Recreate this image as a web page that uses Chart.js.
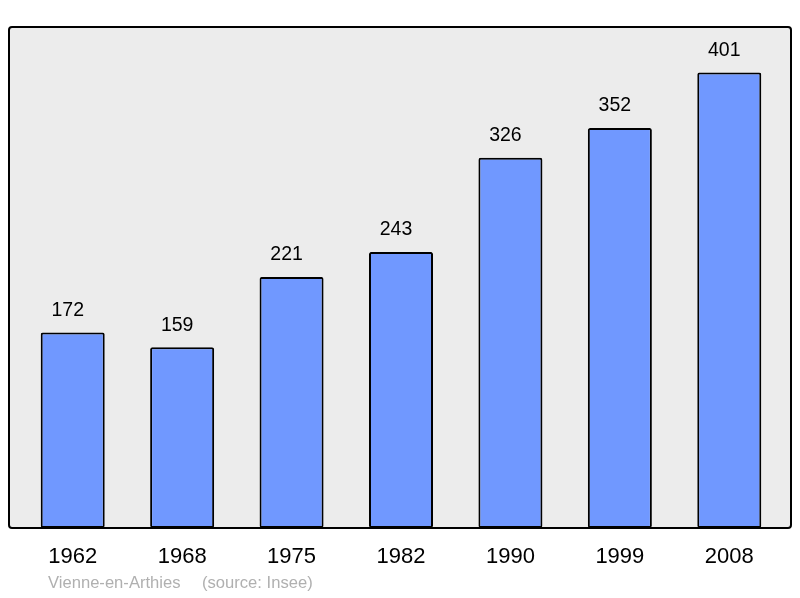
<!DOCTYPE html>
<html>
<head>
<meta charset="utf-8">
<script src="https://cdn.jsdelivr.net/npm/chart.js@4"></script>
<style>
  body { margin: 0; background: #ffffff; }
  #wrap { width: 800px; height: 598px; }
</style>
</head>
<body>
<div id="wrap"><canvas id="myChart"></canvas></div>
<script>
// datos
const annees = ['1962', '1968', '1975', '1982', '1990', '1999', '2008'];
const population = [172, 159, 221, 243, 326, 352, 401];
const titreCommune = 'Vienne-en-Arthies';
const source = '(source: Insee)';

// cadre gris + etiquettes
const cadrePlugin = {
    id: 'cadre',
    beforeDatasetsDraw(chart) {
        const c = chart.ctx;
        const a = chart.chartArea;
        c.save();
        c.fillStyle = '#ececec';
        c.beginPath();
        c.roundRect(9, a.top, 782, a.bottom - a.top, 3);
        c.fill();
        c.restore();
    },
    afterDatasetsDraw(chart) {
        const c = chart.ctx;
        const a = chart.chartArea;
        const x = chart.scales.x;
        const y = chart.scales.y;
        c.save();
        c.strokeStyle = '#000000';
        c.lineWidth = 2;
        c.beginPath();
        c.roundRect(9, a.top, 782, a.bottom - a.top, 3);
        c.stroke();

        c.fillStyle = '#000000';
        c.textAlign = 'center';
        c.textBaseline = 'middle';
        c.font = '19.5px "Liberation Sans", Arial, sans-serif';
        population.forEach((v, i) => {
            c.fillText(String(v), x.getPixelForValue(i) - 5, y.getPixelForValue(v) - 22);
        });

        c.font = '22px "Liberation Sans", Arial, sans-serif';
        annees.forEach((an, i) => {
            c.fillText(an, x.getPixelForValue(i), 557);
        });

        c.fillStyle = '#b0b0b0';
        c.textAlign = 'left';
        c.font = '16.6px "Liberation Sans", Arial, sans-serif';
        c.fillText(titreCommune, 48, 583);
        c.fillText(source, 202, 583);
        c.restore();
    }
};

new Chart(document.getElementById('myChart').getContext('2d'), {
    type: 'bar',
    data: {
        labels: annees,
        datasets: [{
            data: population,
            backgroundColor: '#7098ff',
            borderColor: '#000000',
            borderWidth: 2,
            borderRadius: 2,
            borderSkipped: false,
            barPercentage: 0.585,
            categoryPercentage: 1
        }]
    },
    options: {
        responsive: true,
        maintainAspectRatio: false,
        animation: false,
        layout: { padding: { left: 18, right: 16, top: 27, bottom: 70 } },
        plugins: {
            legend: { display: false },
            tooltip: { enabled: false }
        },
        scales: {
            x: { display: false },
            y: { display: false, min: 0, max: 441 }
        }
    },
    plugins: [cadrePlugin]
});
</script>
</body>
</html>
